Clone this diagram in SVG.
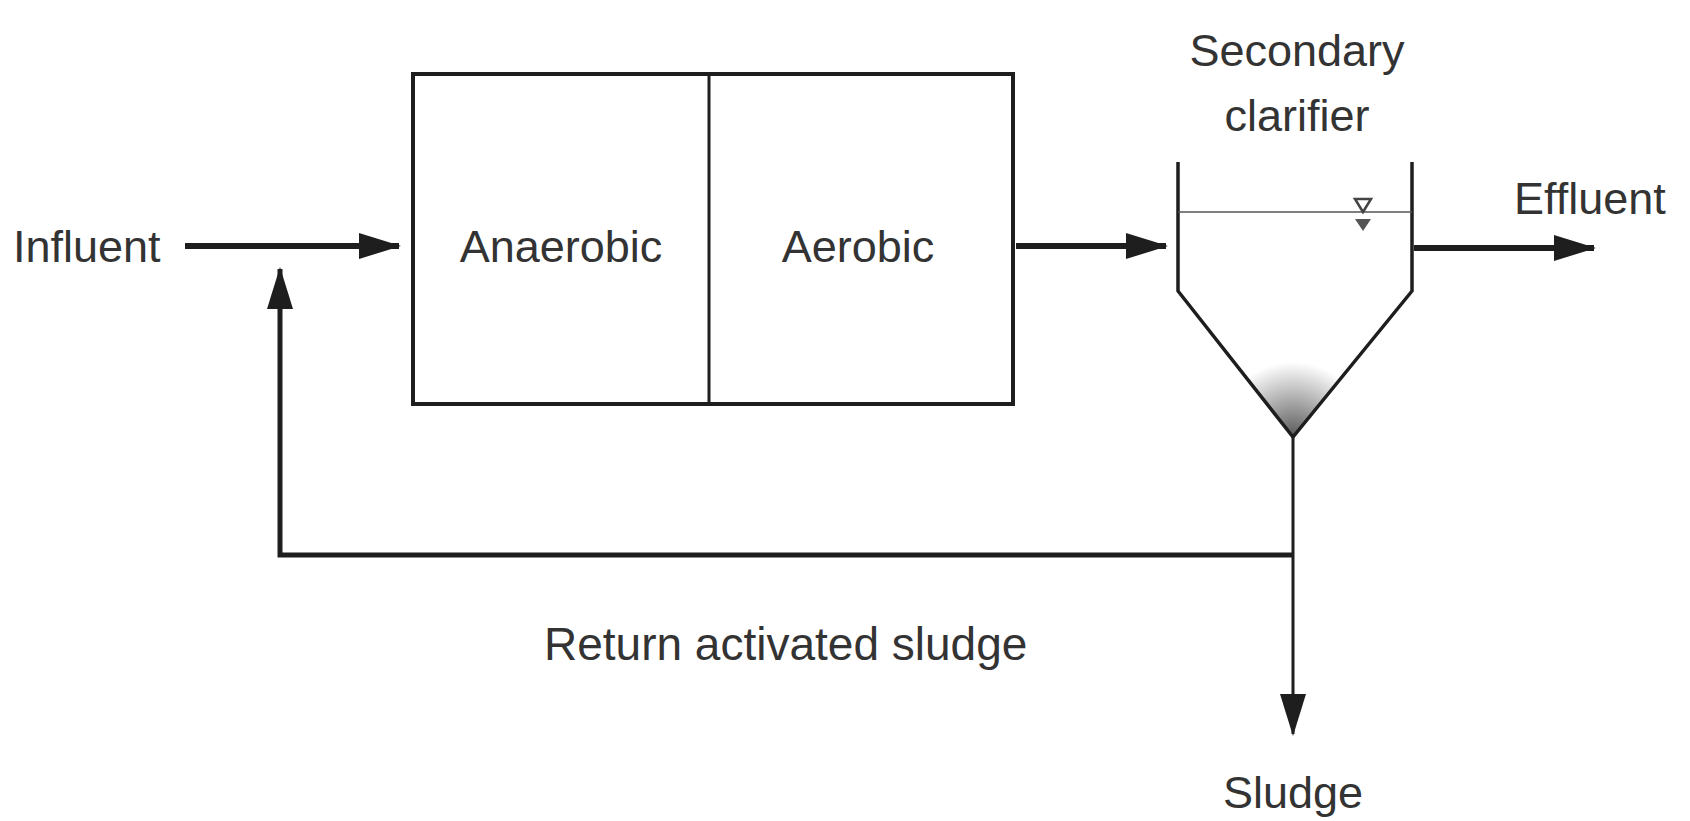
<svg xmlns="http://www.w3.org/2000/svg" width="1690" height="821" viewBox="0 0 1690 821">
<style>
.t{font-family:"Liberation Sans",Arial,sans-serif;font-size:45px;fill:#333;}
.ln{stroke:#1e1e1e;fill:none;}
</style>
<defs>
<marker id="ah" markerUnits="userSpaceOnUse" markerWidth="42" markerHeight="26" refX="40" refY="13" orient="auto">
<path d="M0,0 L42,13 L0,26 Z" fill="#1e1e1e"/>
</marker>
<radialGradient id="sl" cx="1293" cy="437" r="75" gradientUnits="userSpaceOnUse">
<stop offset="0" stop-color="#222" stop-opacity="0.75"/>
<stop offset="1" stop-color="#222" stop-opacity="0"/>
</radialGradient>
</defs>
<rect width="1690" height="821" fill="#fff"/>
<g id="influent"><text class="t" x="13" y="262">Influent</text></g>
<g id="reactor">
<rect x="413" y="74" width="600" height="330" class="ln" stroke-width="4"/>
<line x1="709" y1="74" x2="709" y2="404" class="ln" stroke-width="3"/>
</g>
<g id="anaerobic"><text class="t" x="561" y="262" text-anchor="middle">Anaerobic</text></g>
<g id="aerobic"><text class="t" x="858" y="262" text-anchor="middle">Aerobic</text></g>
<g id="clarifier">
<path d="M1293,437 L1178,293 L1293,293 L1412,293 Z" fill="url(#sl)" stroke="none"/>
<path d="M1178,162 L1178,291 L1293,437 L1412,291 L1412,162" class="ln" stroke-width="3.5"/>
<line x1="1178" y1="212" x2="1412" y2="212" stroke="#555" stroke-width="1.5"/>
<path d="M1355,199 L1371,199 L1363,212 Z" fill="none" stroke="#444" stroke-width="2.5"/>
<path d="M1355,219 L1371,219 L1363,231 Z" fill="#555"/>
<text class="t" x="1297" y="66" text-anchor="middle">Secondary</text>
<text class="t" x="1297" y="131" text-anchor="middle">clarifier</text>
</g>
<g id="effluent"><text class="t" x="1514" y="214">Effluent</text></g>
<g id="return-label"><text class="t" x="544" y="660" style="font-size:46px">Return activated sludge</text></g>
<g id="sludge"><text class="t" x="1293" y="808" text-anchor="middle">Sludge</text></g>
<g id="connectors">
<line x1="185" y1="246" x2="399" y2="246" class="ln" stroke-width="6" marker-end="url(#ah)"/>
<line x1="1016" y1="246" x2="1166" y2="246" class="ln" stroke-width="6" marker-end="url(#ah)"/>
<line x1="1414" y1="248" x2="1594" y2="248" class="ln" stroke-width="6" marker-end="url(#ah)"/>
<polyline points="1293,555 280,555 280,269" class="ln" stroke-width="5" marker-end="url(#ah)"/>
<line x1="1293" y1="437" x2="1293" y2="734" class="ln" stroke-width="3" marker-end="url(#ah)"/>
</g>
</svg>
